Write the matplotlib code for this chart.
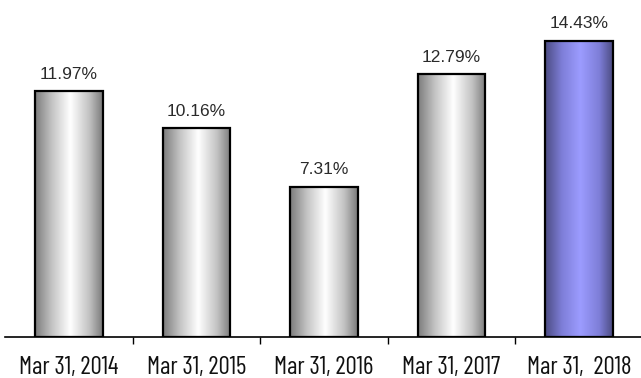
import numpy as np
import matplotlib
matplotlib.use("Agg")
import matplotlib.pyplot as plt
from matplotlib.colors import LinearSegmentedColormap

categories = ["Mar 31, 2014", "Mar 31, 2015", "Mar 31, 2016", "Mar 31, 2017", "Mar 31,  2018"]
values = [11.97, 10.16, 7.31, 12.79, 14.43]
labels = ["11.97%", "10.16%", "7.31%", "12.79%", "14.43%"]

W, H = 641, 378
fig = plt.figure(figsize=(W / 100, H / 100), dpi=100)
ax = fig.add_axes([5.25 / W, 41 / H, 637.5 / W, 337 / H])

grey = LinearSegmentedColormap.from_list(
    "cyl", [(0, "#7c7c7c"), (0.25, "#c4c4c4"), (0.52, "#ffffff"), (0.8, "#c2c2c2"), (1, "#7a7a7a")])
blue = LinearSegmentedColormap.from_list(
    "cylb", [(0, "#4c4c82"), (0.25, "#7e7ed8"), (0.52, "#9c9cff"), (0.8, "#7e7ed8"), (1, "#4c4c82")])
grad = np.linspace(0, 1, 256).reshape(1, -1)

x = np.arange(len(values))
width = 0.533
bars = ax.bar(x, values, width=width, facecolor="none", edgecolor="black", linewidth=1.6, zorder=3)
for i, (b, v) in enumerate(zip(bars, values)):
    cmap = blue if i == len(values) - 1 else grey
    im = ax.imshow(grad, cmap=cmap, aspect="auto", interpolation="bilinear",
                   extent=[b.get_x(), b.get_x() + width, 0, v], zorder=2)
    im.set_clip_path(b)
    ax.annotate(labels[i], (x[i], v), xytext=(0, 9), textcoords="offset points",
                ha="center", va="baseline", fontsize=12.5, family="Liberation Sans", color="#2a2a2a")

ax.set_xlim(-0.5, len(values) - 0.5)
ax.set_ylim(0, 16.41)
for s in ["top", "right", "left"]:
    ax.spines[s].set_visible(False)
ax.spines["bottom"].set_linewidth(1.2)
ax.set_yticks([])
ax.set_xticks(x)
ax.set_xticklabels(categories, family="Barlow Condensed", fontsize=18, color="#111111")
ax.tick_params(axis="x", which="major", length=0, pad=14)
ax.set_xticks(np.arange(0.5, len(values) - 1, 1.0), minor=True)
ax.tick_params(axis="x", which="minor", length=5, width=1)

fig.savefig("out.png", dpi=100)
